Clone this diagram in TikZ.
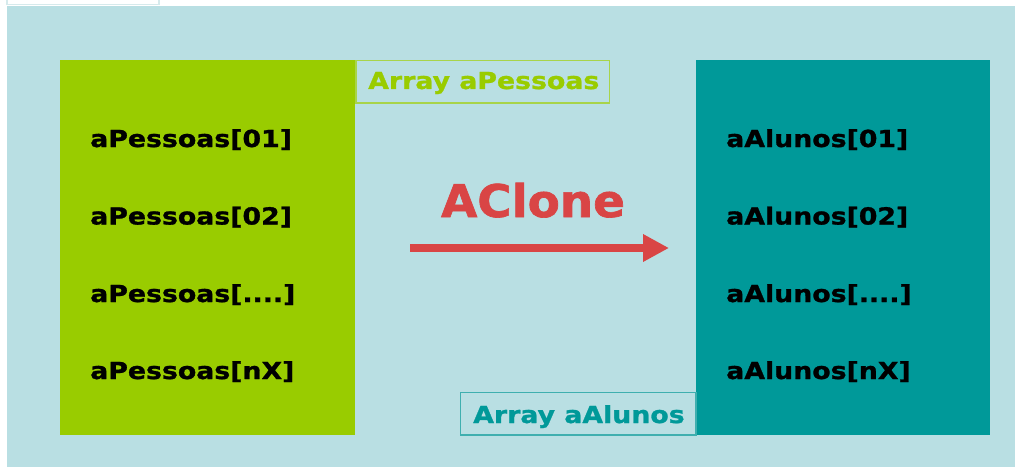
\documentclass[tikz,border=0pt]{standalone}
\usepackage{fontspec}
\usetikzlibrary{arrows.meta}
\newfontfamily\vbold{DejaVu Sans Bold}[FakeStretch=1.14,FakeBold=1.2]
\newfontfamily\vbig{DejaVu Sans Bold}[FakeStretch=1.04,FakeBold=1.5]
\definecolor{bgblue}{HTML}{B9DFE3}
\definecolor{lgreen}{HTML}{99CC00}
\definecolor{lteal}{HTML}{009999}
\definecolor{lred}{HTML}{D94545}
\definecolor{gborder}{HTML}{A8D44A}
\definecolor{tborder}{HTML}{3FAFAF}
\definecolor{topline}{HTML}{D6EAEC}
\begin{document}
\begin{tikzpicture}[x=0.75pt,y=-0.75pt,
  item/.style={anchor=base west,inner sep=0pt,font=\vbold\fontsize{17.6}{20}\selectfont,text=black},
  lbl/.style={anchor=base west,inner sep=0pt,font=\vbold\fontsize{17.6}{20}\selectfont},
  lblbox/.style={line width=1.3pt}]
\useasboundingbox (0,0) rectangle (1015,467);
\fill[white] (0,0) rectangle (1015,467);
\fill[bgblue] (7,6) rectangle (1015,467);
\draw[topline,line width=0.8pt] (7,-1) rectangle (159,4.5);
% boxes
\fill[lgreen] (60,60) rectangle (355,435);
\fill[lteal] (696,60) rectangle (990,435);
% label boxes
\draw[gborder,lblbox] (356,60.5) rectangle (609.5,103);
\node[lbl,text=lgreen] (lp) at (368,89) {Array aPessoas};
\draw[tborder,lblbox] (460.5,392.5) rectangle (696,435);
\node[lbl,text=lteal] (la) at (473,423) {Array aAlunos};
% items left
\node[item] (p1) at (90,147) {aPessoas[01]};
\node[item] (p2) at (90,224.5) {aPessoas[02]};
\node[item] (p3) at (90,302) {aPessoas[....]};
\node[item] (p4) at (90,379) {aPessoas[nX]};
% items right
\node[item] (a1) at (726,147) {aAlunos[01]};
\node[item] (a2) at (726,224.5) {aAlunos[02]};
\node[item] (a3) at (726,302) {aAlunos[....]};
\node[item] (a4) at (726,379) {aAlunos[nX]};
% arrow
\node[anchor=base,inner sep=0pt,font=\vbig\fontsize{33.75}{38}\selectfont,text=lred] (clone) at (533,217) {AClone};
\coordinate (s) at (410,248);
\coordinate (e) at (669,248);
\draw[lred,line width=5.5pt,-{Triangle[length=19.5pt,width=19.5pt]}] (s) -- (e);
\end{tikzpicture}
\end{document}
